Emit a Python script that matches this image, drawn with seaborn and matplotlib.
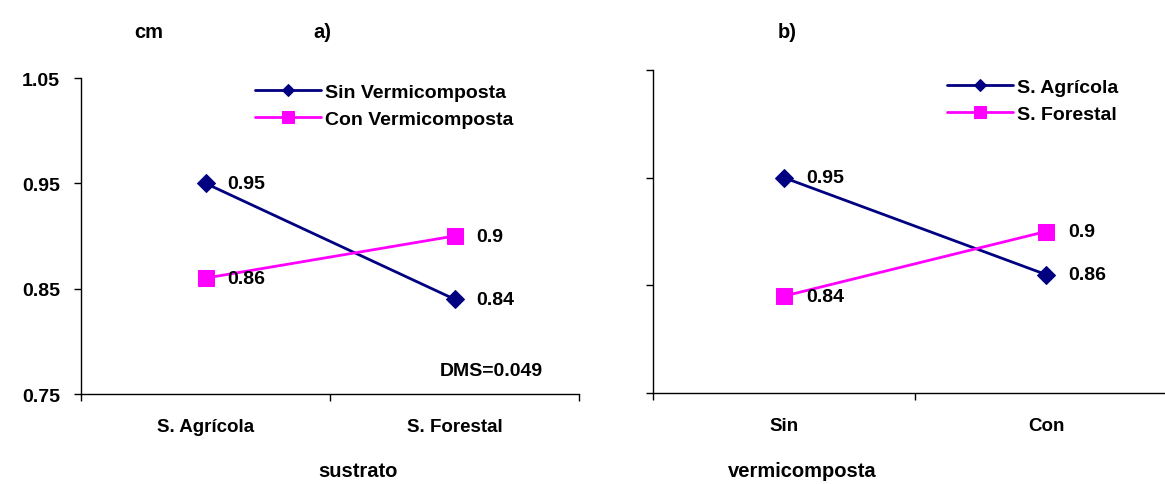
import matplotlib
matplotlib.use("Agg")
import matplotlib.pyplot as plt
import seaborn as sns

sns.set_theme(style="white")
plt.rcParams['font.family'] = ['Liberation Sans', 'DejaVu Sans']
plt.rcParams['font.weight'] = 'bold'
plt.rcParams['text.color'] = 'black'
plt.rcParams['xtick.color'] = 'black'
plt.rcParams['ytick.color'] = 'black'
plt.rcParams['axes.labelcolor'] = 'black'

# Data
substrates = ["S. Agrícola", "S. Forestal"]
sin_vermi = [0.95, 0.84]
con_vermi = [0.86, 0.90]

vermi = ["Sin", "Con"]
s_agricola = [0.95, 0.86]
s_forestal = [0.84, 0.90]

navy = "#000080"
magenta = "#FF00FF"

fig = plt.figure(figsize=(11.65, 4.85), dpi=100)
W, H = 1165, 485
axA = fig.add_axes([81 / W, (H - 395) / H, (579 - 81) / W, (395 - 79) / H])
axB = fig.add_axes([653 / W, (H - 394) / H, (1177 - 653) / W, (394 - 71) / H])

def draw(ax, cats, s1, s2, lab1, lab2, ylim):
    sns.lineplot(x=cats, y=s1, ax=ax, color=navy, marker="D", markersize=9,
                 markeredgecolor=navy, linewidth=2, label=lab1, sort=False)
    sns.lineplot(x=cats, y=s2, ax=ax, color=magenta, marker="s", markersize=12,
                 markeredgecolor=magenta, linewidth=2, label=lab2, sort=False)
    ax.set_xlim(-0.5, 1.5)
    ax.set_ylim(*ylim)
    for i, v in enumerate(s1):
        ax.annotate(f"{v:g}", (i, v), xytext=(16, 0), textcoords="offset points",
                    va="center", ha="left", fontsize=14, fontweight="bold")
    for i, v in enumerate(s2):
        ax.annotate(f"{v:g}", (i, v), xytext=(16, 0), textcoords="offset points",
                    va="center", ha="left", fontsize=14, fontweight="bold")
    for side in ["top", "right"]:
        ax.spines[side].set_visible(False)
    for side in ["left", "bottom"]:
        ax.spines[side].set_color("black")
        ax.spines[side].set_linewidth(1)
    ax.set_xticks([0, 1])
    ax.set_xticklabels(cats, fontsize=13.5, fontweight="bold")
    ax.set_xticks([-0.5, 0.5, 1.5], minor=True)
    ax.tick_params(axis="x", which="major", bottom=True, length=0, pad=17)
    ax.tick_params(axis="x", which="minor", bottom=True, length=5, width=1, color="black", direction="out")
    ax.tick_params(axis="y", left=True, length=5, width=1, color="black", direction="out", pad=10)
    ax.set_yticks([0.75, 0.85, 0.95, 1.05])
    ax.set_xlabel("")
    ax.set_ylabel("")

draw(axA, substrates, sin_vermi, con_vermi, "Sin Vermicomposta", "Con Vermicomposta", (0.75, 1.05))
draw(axB, vermi, s_agricola, s_forestal, "S. Agrícola", "S. Forestal", (0.75, 1.05))

axA.set_yticklabels(["0.75", "0.85", "0.95", "1.05"], fontsize=14, fontweight="bold")
axB.set_yticklabels([])

leg_kw = dict(bbox_transform=fig.transFigure, loc="upper left", frameon=False, fontsize=14,
              handlelength=3.4, handletextpad=0.2, borderpad=0, labelspacing=0.5,
              borderaxespad=0, markerscale=0.7)
axA.legend(bbox_to_anchor=(255 / W, (H - 84) / H), **leg_kw)
axB.legend(bbox_to_anchor=(947 / W, (H - 79) / H), **leg_kw)

fig.text(543 / W, (H - 372) / H, "DMS=0.049", ha="right", va="center",
         fontsize=14, fontweight="bold")

fig.text(149 / W, (H - 33) / H, "cm", ha="center", va="center", fontsize=14.5, fontweight="bold")
fig.text(322 / W, (H - 33) / H, "a)", ha="center", va="center", fontsize=14.5, fontweight="bold")
fig.text(787 / W, (H - 33) / H, "b)", ha="center", va="center", fontsize=14.5, fontweight="bold")
fig.text(358 / W, (H - 472) / H, "sustrato", ha="center", va="center", fontsize=14.5, fontweight="bold")
fig.text(802 / W, (H - 472) / H, "vermicomposta", ha="center", va="center", fontsize=14.5, fontweight="bold")

fig.savefig("out.png", dpi=100)
